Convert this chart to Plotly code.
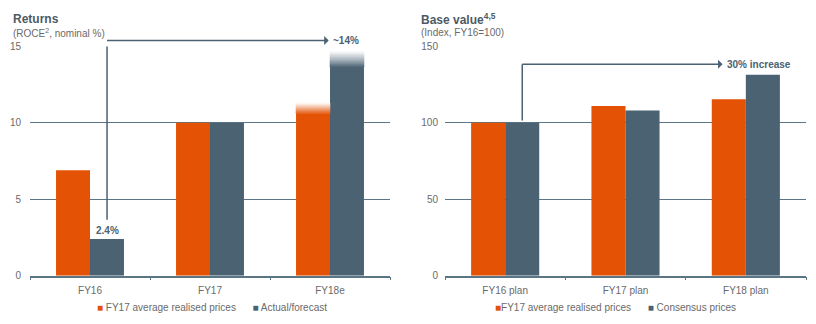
import plotly.graph_objects as go

# ---- data ----
left_cats = ["FY16", "FY17", "FY18e"]
left_fy17_prices = [6.9, 10.0, 10.6]
left_actual = [2.4, 10.0, 13.65]
left_fade_orange = [10.6, 11.3]   # faded top of FY18e orange bar
left_fade_gray = [13.65, 14.65]   # faded top of FY18e gray bar

right_cats = ["FY16 plan", "FY17 plan", "FY18 plan"]
right_fy17_prices = [100, 111, 115.5]
right_consensus = [100, 108, 131.5]

left_series_names = ["FY17 average realised prices", "Actual/forecast"]
right_series_names = ["FY17 average realised prices", "Consensus prices"]

ORANGE = (227, 82, 5)
SLATE = (74, 98, 114)
def rgb(c): return "rgb(%d,%d,%d)" % c
def blend(c, t):  # t=1 -> colour, t=0 -> white
    return "rgb(%d,%d,%d)" % tuple(round(255 + (v - 255) * t) for v in c)

LINE = "#5C7585"
TXT = "#6A6A6A"
FONT = "Liberation Sans, Arial, sans-serif"

W, H = 816, 324
fig = go.Figure()

def add_pair(cats, a, b, xa, ya):
    fig.add_trace(go.Bar(x=cats, y=a, marker=dict(color=rgb(ORANGE), line=dict(width=0)),
                         offsetgroup="o", xaxis=xa, yaxis=ya, showlegend=False))
    fig.add_trace(go.Bar(x=cats, y=b, marker=dict(color=rgb(SLATE), line=dict(width=0)),
                         offsetgroup="g", xaxis=xa, yaxis=ya, showlegend=False))

add_pair(left_cats, left_fy17_prices, left_actual, "x", "y")
add_pair(right_cats, right_fy17_prices, right_consensus, "x2", "y2")

# fade segments on FY18e bars
def add_fade(cat, lo, hi, color, group, n=14):
    step = (hi - lo) / n
    for i in range(n):
        t = 0.95 * (1 - (i + 0.5) / n) + 0.03
        c = blend(color, t)
        fig.add_trace(go.Bar(x=[cat], y=[step], base=[lo + i * step],
                             marker=dict(color=c, line=dict(width=0.6, color=c)),
                             offsetgroup=group, xaxis="x", yaxis="y", showlegend=False, hoverinfo="skip"))

add_fade(left_cats[2], left_fade_orange[0], left_fade_orange[1], ORANGE, "o")
add_fade(left_cats[2], left_fade_gray[0], left_fade_gray[1], SLATE, "g")

ydom = [1 - 280 / H, 1 - 42 / H]
common_x = dict(type="category", showline=True, linecolor=LINE, linewidth=1.5, ticks="outside",
                tickson="boundaries", ticklen=3, tickcolor=LINE, showgrid=False,
                tickfont=dict(size=10, color=TXT, family=FONT), ticklabelstandoff=5)
common_y = dict(showline=False, showgrid=True, gridcolor=LINE, gridwidth=1, zeroline=False,
                tickfont=dict(size=10, color=TXT, family=FONT), ticks="", domain=ydom)

fig.update_layout(
    width=W, height=H, margin=dict(l=0, r=0, t=0, b=0),
    paper_bgcolor="white", plot_bgcolor="white",
    barmode="group", bargap=0.434, bargroupgap=0,
    font=dict(family=FONT, color=TXT),
    xaxis=dict(common_x, domain=[30 / W, 390 / W], anchor="y"),
    yaxis=dict(common_y, range=[0, 15], tickvals=[0, 5, 10, 15], anchor="x", ticklabelstandoff=8),
    xaxis2=dict(common_x, domain=[445 / W, 806 / W], anchor="y2"),
    yaxis2=dict(common_y, range=[0, 150], tickvals=[0, 50, 100, 150], anchor="x2", ticklabelstandoff=6),
    showlegend=False,
)

def ypaper(v, vmax):
    return ydom[0] + v / vmax * (ydom[1] - ydom[0])

# titles
TITLE = "#4D5A64"
fig.add_annotation(xref="paper", yref="paper", x=11 / W, y=1 - 14 / H, xanchor="left", yanchor="middle",
                   text="<b>Returns</b>", showarrow=False, font=dict(size=12, color=TITLE, family=FONT))
fig.add_annotation(xref="paper", yref="paper", x=11 / W, y=1 - 28 / H, xanchor="left", yanchor="middle",
                   text="(ROCE<sup>2</sup>, nominal %)", showarrow=False, font=dict(size=10, color=TXT, family=FONT))
fig.add_annotation(xref="paper", yref="paper", x=419 / W, y=1 - 14 / H, xanchor="left", yanchor="middle",
                   text="<b>Base value<sup>4,5</sup></b>", showarrow=False, font=dict(size=12, color=TITLE, family=FONT))
fig.add_annotation(xref="paper", yref="paper", x=419 / W, y=1 - 28 / H, xanchor="left", yanchor="middle",
                   text="(Index, FY16=100)", showarrow=False, font=dict(size=10, color=TXT, family=FONT))

# legends (as text with coloured squares)
def legend_text(names, gap):
    return ("<span style='color:%s'>■</span>%s%s" % (rgb(ORANGE), gap, names[0]) +
            "      " +
            "<span style='color:%s'>■</span> %s" % (rgb(SLATE), names[1]))
fig.add_annotation(xref="paper", yref="paper", x=212 / W, y=1 - 313 / H, xanchor="center", yanchor="middle",
                   text=legend_text(left_series_names, " "), showarrow=False,
                   font=dict(size=10, color=TXT, family=FONT))
fig.add_annotation(xref="paper", yref="paper", x=615 / W, y=1 - 313 / H, xanchor="center", yanchor="middle",
                   text=legend_text(right_series_names, ""), showarrow=False,
                   font=dict(size=10, color=TXT, family=FONT))

SL = rgb(SLATE)
gx = 0.142
# left arrow: from 2.4% bar up and across to FY18e, labelled ~14%
top_l = 15.39
fig.add_shape(type="line", xref="x", yref="y", x0=gx, x1=gx, y0=3.65, y1=top_l, line=dict(color=SL, width=1.5))
fig.add_annotation(xref="x", yref="paper", axref="x", ayref="pixel", x=gx, y=ypaper(top_l, 15), ax=2.135, ay=0,
                   showarrow=True, arrowside="start", arrowhead=2, arrowsize=0.8, arrowwidth=1.5, arrowcolor=SL,
                   startstandoff=3, standoff=0,
                   text="<b>~14%</b>", font=dict(size=10, color=SL, family=FONT))
fig.add_annotation(xref="x", yref="y", x=gx, y=2.96, xanchor="center", yanchor="middle",
                   showarrow=False, text="<b>%.1f%%</b>" % left_actual[0], font=dict(size=10, color=SL, family=FONT))

# right arrow labelled 30% increase
top_r = 138.3
fig.add_shape(type="line", xref="x2", yref="y2", x0=gx, x1=gx, y0=101.5, y1=top_r, line=dict(color=SL, width=1.5))
fig.add_annotation(xref="x2", yref="y2", axref="x2", ayref="y2", x=gx, y=top_r, ax=2.11, ay=top_r,
                   showarrow=True, arrowside="start", arrowhead=2, arrowsize=0.8, arrowwidth=1.5, arrowcolor=SL,
                   startstandoff=3, standoff=0,
                   text="<b>30% increase</b>", font=dict(size=10, color=SL, family=FONT))

fig.write_html("out.html")
